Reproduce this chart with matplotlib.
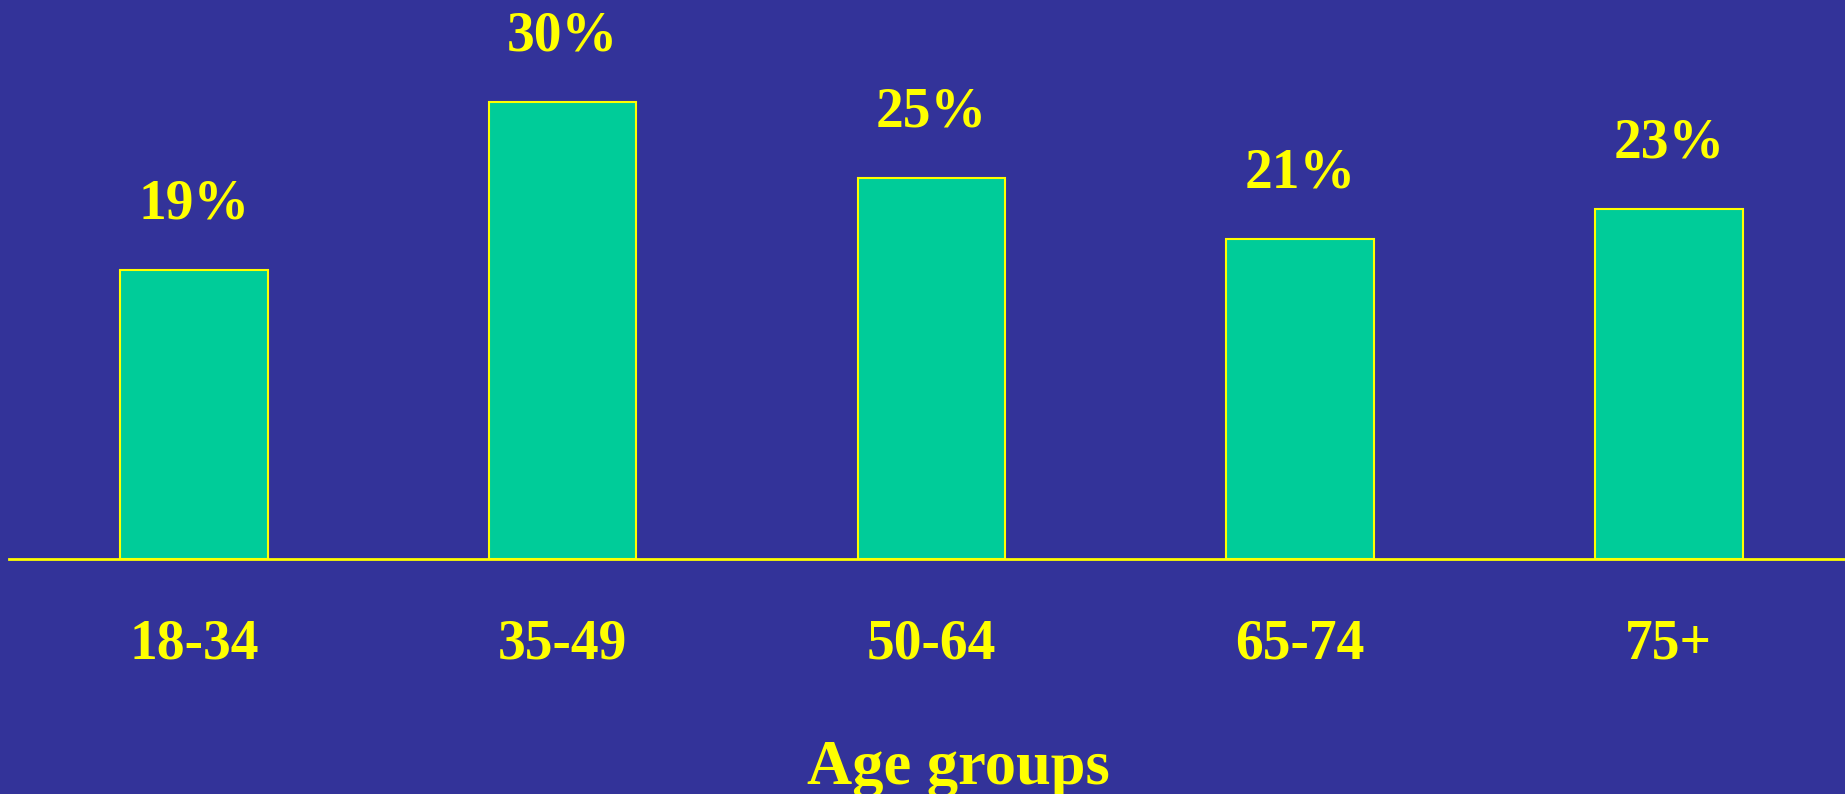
"""
Share by age group bar chart
Output: out.png
"""

import matplotlib.pyplot as plt

# chart data
age_groups = ["18-34", "35-49", "50-64", "65-74", "75+"]
shares = [19, 30, 25, 21, 23]
value_labels = ["19%", "30%", "25%", "21%", "23%"]

# colours
bg = "#333399"
bar_col = "#00CC99"
yellow = "#FFFF00"

plt.rcParams["font.family"] = ["Liberation Serif", "DejaVu Serif"]
plt.rcParams["font.weight"] = "bold"

fig = plt.figure(figsize=(18.45, 7.94), dpi=100, facecolor=bg)
ax = fig.add_axes([9 / 1845, 235 / 794, 1 - 9 / 1845, 559 / 794])
ax.set_facecolor(bg)

x = list(range(len(age_groups)))
ax.bar(x, shares, width=0.4, color=bar_col, edgecolor=yellow, linewidth=1.5, zorder=2)

# value labels above bars
for xi, v, lab in zip(x, shares, value_labels):
    ax.annotate(lab, (xi, v), xytext=(0, 37), textcoords="offset points",
                ha="center", va="baseline", fontsize=40, fontweight="bold",
                color=yellow)

ax.set_xlim(-0.502, 4.478)
ax.set_ylim(0, 36.7)

# only the bottom axis line
for side in ["top", "right", "left"]:
    ax.spines[side].set_visible(False)
ax.spines["bottom"].set_color(yellow)
ax.spines["bottom"].set_linewidth(2)
ax.spines["bottom"].set_zorder(3)
ax.set_yticks([])

ax.set_xticks(x)
ax.set_xticklabels(age_groups, fontsize=40, fontweight="bold", color=yellow)
ax.tick_params(axis="x", length=0, pad=71.5)
for t in ax.get_xticklabels():
    t.set_va("baseline")

fig.text(958 / 1845, 10 / 794, "Age groups", ha="center", va="baseline",
         fontsize=45, fontweight="bold", color=yellow)

plt.savefig("out.png", dpi=100, facecolor=bg)
